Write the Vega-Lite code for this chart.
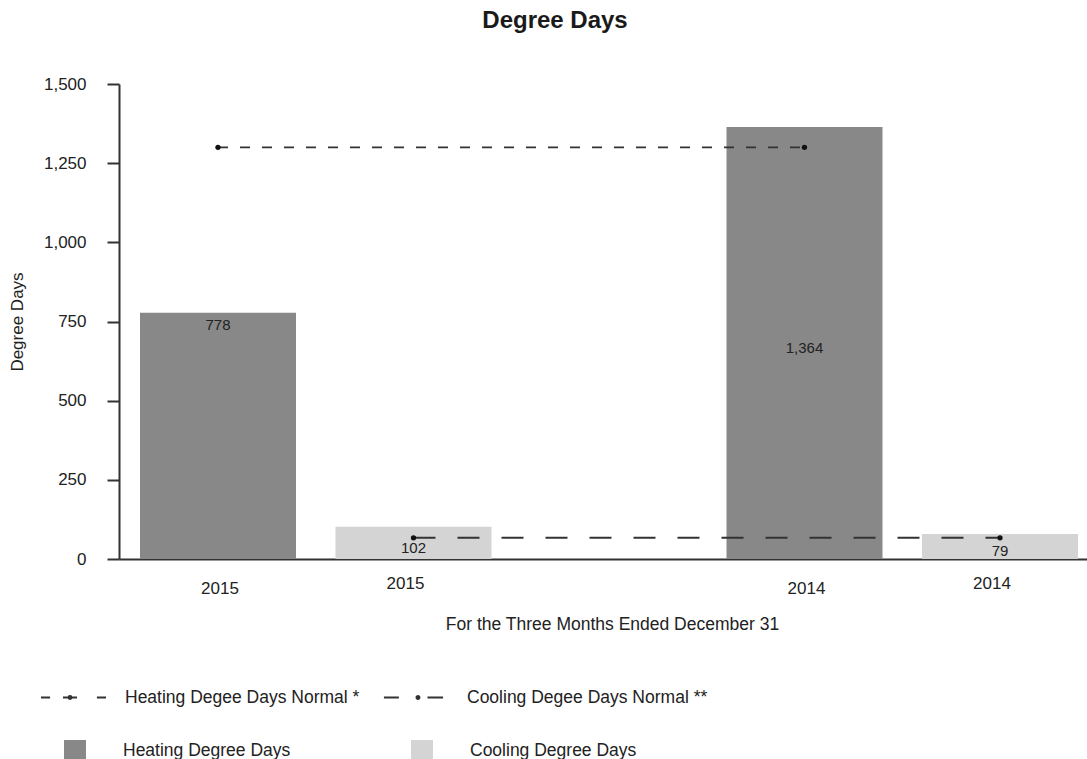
{
  "$schema": "https://vega.github.io/schema/vega-lite/v6.json",
  "width": 968,
  "height": 475,
  "autosize": {"type": "none"},
  "padding": {"left": 119, "top": 84, "right": 0, "bottom": 200},
  "title": {
    "text": "Degree Days",
    "fontSize": 24,
    "fontWeight": "bold",
    "color": "#1a1a1a",
    "anchor": "middle",
    "dx": -48,
    "offset": 42
  },
  "datasets": {
    "actual": [
      {"slot": "Heating 2015", "series": "Heating Degree Days", "days": 778},
      {"slot": "Cooling 2015", "series": "Cooling Degree Days", "days": 102},
      {"slot": "Heating 2014", "series": "Heating Degree Days", "days": 1364},
      {"slot": "Cooling 2014", "series": "Cooling Degree Days", "days": 79}
    ],
    "normals": [
      {"slot": "Heating 2015", "normal": "Heating Degee Days Normal *", "days": 1300},
      {"slot": "Heating 2014", "normal": "Heating Degee Days Normal *", "days": 1300},
      {"slot": "Cooling 2015", "normal": "Cooling Degee Days Normal **", "days": 67},
      {"slot": "Cooling 2014", "normal": "Cooling Degee Days Normal **", "days": 67}
    ]
  },
  "layer": [
    {
      "data": {"name": "actual"},
      "mark": {"type": "bar"},
      "encoding": {
        "x": {
          "field": "slot",
          "type": "nominal",
          "sort": null,
          "scale": {
            "domain": ["Heating 2015", "Cooling 2015", "gap", "Heating 2014", "Cooling 2014"],
            "paddingInner": 0.202,
            "paddingOuter": 0.0767,
            "align": 0.7
          },
          "axis": {
            "title": "For the Three Months Ended December 31",
            "labelExpr": "datum.value == 'gap' ? '' : split(datum.value, ' ')[1]",
            "labelAngle": 0,
            "ticks": false,
            "labelBaseline": "middle",
            "labelPadding": {"condition": {"test": "indexof(datum.value, 'Cooling') === 0", "value": 24}, "value": 29},
            "labelOffset": {"condition": {"test": "indexof(datum.value, 'Cooling') === 0", "value": -8}, "value": 2},
            "titleX": 493,
            "titleY": 65,
            "titleFontSize": 17.5,
            "titleBaseline": "middle",
            "titleAlign": "center"
          }
        },
        "y": {
          "field": "days",
          "type": "quantitative",
          "scale": {"domain": [0, 1500], "nice": false},
          "axis": {
            "title": "Degree Days",
            "values": [0, 250, 500, 750, 1000, 1250, 1500],
            "format": ",d",
            "tickSize": 12,
            "labelPadding": 21,
            "labelBaseline": "middle",
            "titleAngle": -90,
            "titleX": -102,
            "titleY": 237.5,
            "titleBaseline": "middle",
            "titleAlign": "center"
          }
        },
        "color": {
          "field": "series",
          "type": "nominal",
          "scale": {"domain": ["Heating Degree Days", "Cooling Degree Days"], "range": ["#888888", "#d4d4d4"]},
          "legend": {
            "title": null,
            "orient": "none",
            "legendX": -55,
            "legendY": 656,
            "direction": "horizontal",
            "columns": 2,
            "columnPadding": 120,
            "symbolType": "square",
            "symbolSize": 484,
            "symbolStrokeWidth": 0,
            "labelOffset": 37,
            "labelLimit": 400
          }
        }
      }
    },
    {
      "data": {"name": "normals"},
      "transform": [{"filter": "indexof(datum.slot, 'Heating') === 0"}],
      "mark": {"type": "line", "strokeWidth": 1.8, "color": "#333333"},
      "encoding": {
        "x": {"field": "slot", "type": "nominal", "sort": null},
        "y": {"field": "days", "type": "quantitative"},
        "strokeDash": {
          "field": "normal",
          "type": "nominal",
          "scale": {"range": [[10, 12]]},
          "legend": {
            "title": null,
            "orient": "none",
            "legendX": -79,
            "legendY": 580,
            "symbolType": "M-1,0L-0.72,0M-0.323,0L-0.108,0M-0.108,0L0.108,0M0.72,0L1,0M-0.153,0A0.045,0.045,0,1,1,-0.063,0A0.045,0.045,0,1,1,-0.153,0Z",
            "symbolSize": 4225,
            "symbolStrokeWidth": 2,
            "symbolStrokeColor": "#333333",
            "symbolFillColor": "#222222",
            "labelOffset": 18,
            "labelLimit": 400
          }
        }
      }
    },
    {
      "data": {"name": "normals"},
      "transform": [{"filter": "indexof(datum.slot, 'Cooling') === 0"}],
      "mark": {"type": "line", "strokeWidth": 2, "strokeDash": [22, 22]},
      "encoding": {
        "x": {"field": "slot", "type": "nominal", "sort": null},
        "y": {"field": "days", "type": "quantitative"},
        "stroke": {
          "field": "normal",
          "type": "nominal",
          "scale": {"range": ["#333333"]},
          "legend": {
            "title": null,
            "orient": "none",
            "legendX": 261,
            "legendY": 580,
            "symbolType": "M-0.91,0L-0.45,0M0.43,0L0.91,0M0.093,0A0.045,0.045,0,1,1,0.183,0A0.045,0.045,0,1,1,0.093,0Z",
            "symbolSize": 4225,
            "symbolStrokeWidth": 2,
            "symbolStrokeColor": "#333333",
            "symbolFillColor": "#222222",
            "labelOffset": 20,
            "labelLimit": 400
          }
        }
      }
    },
    {
      "data": {"name": "normals"},
      "mark": {"type": "point", "filled": true, "size": 28, "color": "#111111", "opacity": 1},
      "encoding": {
        "x": {"field": "slot", "type": "nominal", "sort": null},
        "y": {"field": "days", "type": "quantitative"}
      }
    },
    {
      "data": {"name": "actual"},
      "transform": [{"filter": "datum.slot === 'Heating 2015'"}],
      "mark": {"type": "text", "fontSize": 15, "color": "#222222", "baseline": "middle", "dy": 12},
      "encoding": {
        "x": {"field": "slot", "type": "nominal", "sort": null},
        "y": {"field": "days", "type": "quantitative"},
        "text": {"field": "days", "type": "quantitative", "format": ","}
      }
    },
    {
      "data": {"name": "actual"},
      "transform": [{"filter": "datum.slot !== 'Heating 2015'"}],
      "mark": {"type": "text", "fontSize": 15, "color": "#222222", "baseline": "middle", "dy": 5},
      "encoding": {
        "x": {"field": "slot", "type": "nominal", "sort": null},
        "y": {"field": "days", "type": "quantitative", "stack": "zero", "bandPosition": 0.5},
        "text": {"field": "days", "type": "quantitative", "format": ","}
      }
    }
  ],
  "config": {
    "font": "Liberation Sans",
    "view": {"stroke": null},
    "axis": {
      "labelColor": "#222222",
      "titleColor": "#222222",
      "domainColor": "#333333",
      "tickColor": "#333333",
      "domainWidth": 2,
      "tickWidth": 2,
      "grid": false,
      "labelFontSize": 17,
      "titleFontSize": 17,
      "titleFontWeight": "normal"
    },
    "legend": {
      "labelFontSize": 17.5,
      "labelColor": "#222222",
      "padding": 0
    }
  }
}
